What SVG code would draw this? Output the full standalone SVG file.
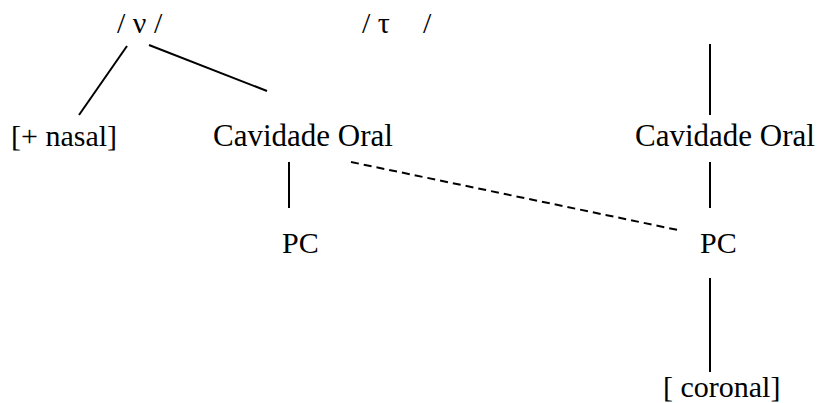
<svg xmlns="http://www.w3.org/2000/svg" width="817" height="403" viewBox="0 0 817 403">
<style>
text { font-family: "Liberation Serif", "Times New Roman", serif; font-size: 30px; fill: #000; }
.big { font-size: 31px; }
.ln { stroke: #000; stroke-width: 2; fill: none; }
.dash { stroke-dasharray: 8 5; }
</style>
<rect width="817" height="403" fill="#fff"/>
<g id="connectors">
<line class="ln" x1="127" y1="46" x2="79" y2="115"/>
<line class="ln" x1="149" y1="45" x2="267" y2="91"/>
<line class="ln" x1="289" y1="162" x2="289" y2="208"/>
<line class="ln dash" x1="351" y1="162" x2="678" y2="230"/>
<line class="ln" x1="710" y1="44" x2="710" y2="115"/>
<line class="ln" x1="710" y1="162" x2="710" y2="208"/>
<line class="ln" x1="710" y1="278" x2="710" y2="372"/>
</g>
<g id="n-nu"><text x="117" y="33">/ ν /</text></g>
<g id="n-tau"><text x="362" y="33">/ τ<tspan x="423">/</tspan></text></g>
<g id="n-nasal"><text x="11" y="146">[+ nasal]</text></g>
<g id="n-cav1"><text class="big" x="213" y="146">Cavidade Oral</text></g>
<g id="n-pc1"><text x="282" y="253">PC</text></g>
<g id="n-cav2"><text class="big" x="635" y="146">Cavidade Oral</text></g>
<g id="n-pc2"><text x="700" y="253">PC</text></g>
<g id="n-coronal"><text x="663" y="397">[ coronal]</text></g>
</svg>
